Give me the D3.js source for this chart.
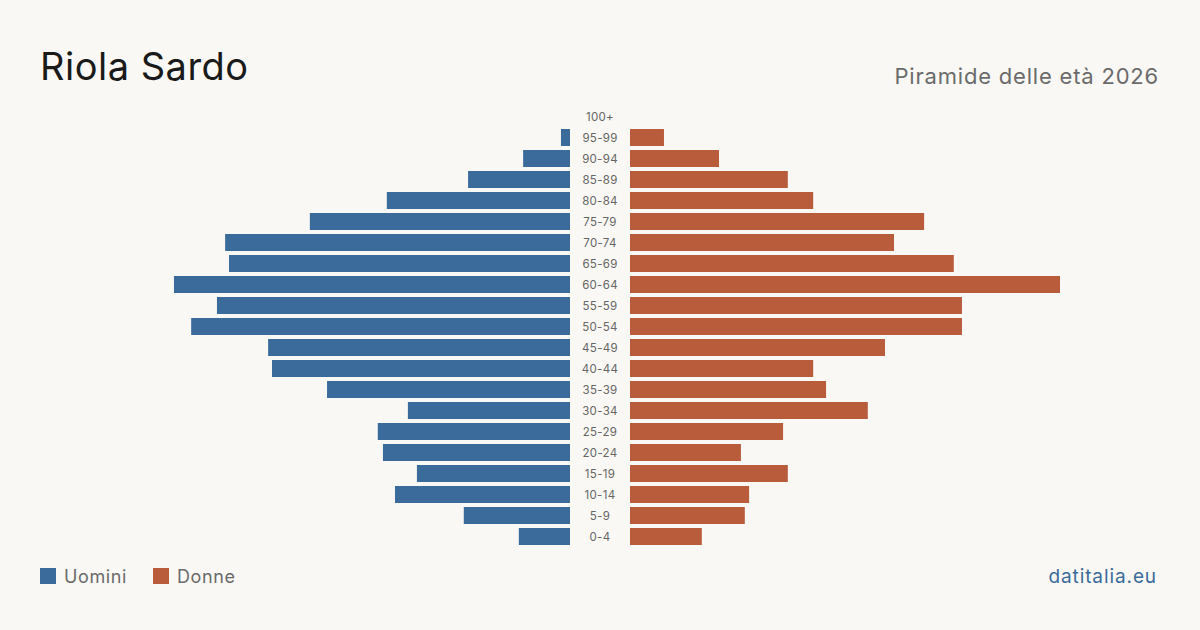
<!DOCTYPE html>
<html><head><meta charset="utf-8">
<script src="https://cdn.jsdelivr.net/npm/d3@7"></script>
<style>html,body{margin:0;padding:0;background:#f9f8f4;}svg{display:block;}</style>
</head><body>
<svg id="c" width="1200" height="630"></svg>
<script>
const ageGroups = ["100+","95-99","90-94","85-89","80-84","75-79","70-74","65-69","60-64","55-59","50-54","45-49","40-44","35-39","30-34","25-29","20-24","15-19","10-14","5-9","0-4"];
const men   = [0,2.1,10.9,23.7,42.6,60.5,80.2,79.3,92.1,82.1,88.1,70.2,69.3,56.5,37.7,44.7,43.5,35.6,40.7,24.7,11.9];
const women = [0,7.9,20.7,36.7,42.6,68.4,61.4,75.3,100,77.2,77.2,59.3,42.6,45.6,55.3,35.6,25.8,36.7,27.7,26.7,16.7];
const seriesNames = ["Uomini","Donne"];
const title = "Riola Sardo";
const subtitle = "Piramide delle età 2026";
const source = "datitalia.eu";

const colors = {men:"#3b6b9b", women:"#b95c3c"};
const font = "Inter, 'Noto Sans', sans-serif";
const svg = d3.select("#c");
svg.append("rect").attr("width",1200).attr("height",630).attr("fill","#f9f8f4");

const y = d3.scaleBand().domain(ageGroups).range([106,547]).padding(0);
const maxV = 100;
const xL = d3.scaleLinear().domain([0,maxV]).range([570,140]);
const xR = d3.scaleLinear().domain([0,maxV]).range([630,1060]);

const rows = ageGroups.map((a,i)=>({age:a,m:men[i],f:women[i]}));

svg.append("g").selectAll("rect").data(rows.filter(d=>d.m>0)).join("rect")
  .attr("x",d=>xL(d.m)).attr("y",d=>y(d.age)+2)
  .attr("width",d=>xL(0)-xL(d.m)).attr("height",y.bandwidth()-4)
  .attr("fill",colors.men);
svg.append("g").selectAll("rect").data(rows.filter(d=>d.f>0)).join("rect")
  .attr("x",xR(0)).attr("y",d=>y(d.age)+2)
  .attr("width",d=>xR(d.f)-xR(0)).attr("height",y.bandwidth()-4)
  .attr("fill",colors.women);

svg.append("g").selectAll("text").data(ageGroups).join("text")
  .attr("x",600).attr("y",d=>y(d)+y.bandwidth()/2)
  .attr("text-anchor","middle").attr("dominant-baseline","central")
  .attr("font-family",font).attr("font-size",11.5).attr("letter-spacing",0.3).attr("fill","#666")
  .text(d=>d);

svg.append("text").attr("x",40).attr("y",80).attr("font-family",font)
  .attr("font-size",38).attr("letter-spacing",0.5).attr("fill","#1a1a1a").text(title);
svg.append("text").attr("x",1159).attr("y",84).attr("text-anchor","end")
  .attr("font-family",font).attr("font-size",22).attr("letter-spacing",0.8).attr("fill","#6b6b6b").text(subtitle);

const leg = svg.append("g");
const legX = [40,153];
seriesNames.forEach((n,i)=>{
  leg.append("rect").attr("x",legX[i]).attr("y",568).attr("width",16).attr("height",16)
    .attr("fill",i===0?colors.men:colors.women);
  leg.append("text").attr("x",legX[i]+24).attr("y",583).attr("font-family",font)
    .attr("font-size",18).attr("letter-spacing",0.6).attr("fill","#6b6b6b").text(n);
});
svg.append("text").attr("x",1157).attr("y",583).attr("text-anchor","end")
  .attr("font-family",font).attr("font-size",19).attr("letter-spacing",0.9).attr("fill","#3b6b9b").text(source);
</script>
</body></html>
